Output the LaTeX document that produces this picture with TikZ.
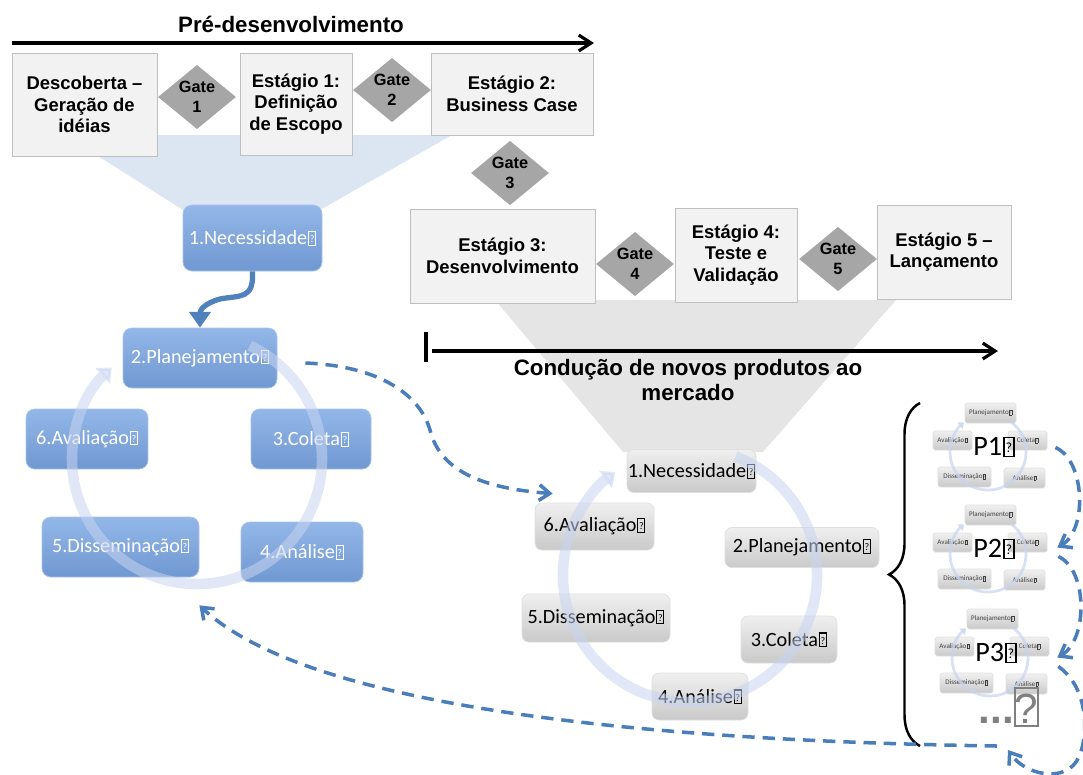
\documentclass[tikz,border=0pt]{standalone}
\usepackage{fontspec}
\setmainfont{Liberation Sans}
\newfontfamily\cali{Carlito}
\usepackage{graphicx}
\usetikzlibrary{calc,arrows.meta,decorations.pathreplacing,shapes.geometric}

\definecolor{funnelblue}{HTML}{DCE6F2}
\definecolor{boxtop}{HTML}{93B7E8}
\definecolor{boxbot}{HTML}{7098D1}
\definecolor{boxline}{HTML}{A9C3EA}
\definecolor{ringblue}{HTML}{C8D4F0}
\definecolor{linkblue}{HTML}{4A7EBB}
\definecolor{arrowblue}{HTML}{4F81BD}

% the boxed question mark that the picture prints after each label
\newcommand{\qb}{{\fboxsep=0pt\fboxrule=.05em\kern.04em\fbox{\makebox[.3em]{\rule{0pt}{.62em}\raisebox{.1em}{\scalebox{.5}{?}}}}}}

\tikzset{
	wh/.style 2 args={minimum width=#1*\px, minimum height=#2*\px},
	stage/.style={draw=gray!50, fill=gray!10, align=center, inner sep=1pt, font=\bfseries\fontsize{10.5}{12.3}\selectfont},
	gate/.style={diamond, aspect=1.1, fill=gray!70, align=center, inner sep=0pt, minimum width=78*\px, font=\bfseries\fontsize{9.3}{11.3}\selectfont},
	heading/.style={font=\bfseries\fontsize{12.7}{14.2}\selectfont},
	timeline/.style={line width=1.8pt, -{Straight Barb[length=7pt,width=9pt]}},
	bbox/.style={rounded corners=5pt, draw=boxline, top color=boxtop, bottom color=boxbot, text=white, inner sep=0pt, font=\cali\fontsize{11.5}{13}\selectfont},
	gbox/.style={rounded corners=4pt, draw=gray!25, top color=gray!12, bottom color=gray!42, inner sep=0pt, font=\cali\fontsize{11.5}{13}\selectfont},
	mbox/.style={rounded corners=1pt, draw=gray!25, top color=gray!12, bottom color=gray!42, text=black!75, inner sep=0pt, font=\cali\fontsize{4}{5}\selectfont},
	ring/.style={ringblue, opacity=.55, line width=6pt, -{Triangle[length=7pt,width=12pt]}},
	minring/.style={ringblue, opacity=.7, line width=1.6pt, -{Triangle[length=3pt,width=5pt]}},
	link/.style={linkblue, line width=2pt, dash pattern=on 7pt off 4.5pt, -{Straight Barb[length=6pt,width=9pt]}}
}

\begin{document}
\begin{tikzpicture}[x=0.2mm, y=-0.2mm]
	\def\px{0.2mm}
	\useasboundingbox (0,0) rectangle (1083,774);

	% funnels
	\fill[funnelblue] (65,135) -- (452,135) -- (320,210) -- (183,210) -- cycle;
	\fill[gray!20] (495,300) -- (896,300) -- (763,452) -- (623,452) -- cycle;

	% stages and gates
	\node[stage, wh={145}{103}] (disc) at (84.5,104.5) {Descoberta –\\Geração de\\idéias};
	\node[stage, wh={112}{102}] (st1) at (296,104) {Estágio 1:\\Definição\\de Escopo};
	\node[stage, wh={162}{82}] (st2) at (512,94) {Estágio 2:\\Business Case};
	\node[stage, wh={185}{94}] (st3) at (502.5,256) {Estágio 3:\\Desenvolvimento};
	\node[stage, wh={122}{94}] (st4) at (736,255) {Estágio 4:\\Teste e\\Validação};
	\node[stage, wh={134}{94}] (st5) at (944,252) {Estágio 5 –\\Lançamento};
	\node[gate] (gate1) at (197,97) {Gate\\1};
	\node[gate] (gate2) at (392,90) {Gate\\2};
	\node[gate] (gate3) at (510,173) {Gate\\3};
	\node[gate] (gate4) at (635,264) {Gate\\4};
	\node[gate] (gate5) at (838,259) {Gate\\5};

	% timelines
	\coordinate (pre-start) at (12,43);
	\coordinate (pre-end) at (594,43);
	\draw[timeline] (pre-start) -- (pre-end);
	\node[heading] (pre-lbl) at (291,24) {Pré-desenvolvimento};

	\coordinate (mkt-start) at (432,351);
	\coordinate (mkt-end) at (998,351);
	\draw[line width=1.8pt] ($(mkt-start)+(-6,-19)$) -- ($(mkt-start)+(-6,11)$);
	\draw[timeline] (mkt-start) -- (mkt-end);
	\node[heading, align=center] (mkt-lbl) at (688,380) {Condução de novos produtos ao\\mercado};

	% blue cycle
	\coordinate (bc) at (197,459);
	\node[bbox, wh={139}{66}] (bnec) at (252.5,238) {1.Necessidade\qb};
	\node[bbox, wh={154}{60}] (bpla) at (200,358) {2.Planejamento\qb};
	\node[bbox, wh={120}{60}] (bcol) at (311,439) {3.Coleta\qb};
	\node[bbox, wh={122}{60}] (bana) at (302,552) {4.Análise\qb};
	\node[bbox, wh={157}{60}] (bdis) at (120.5,547) {5.Disseminação\qb};
	\node[bbox, wh={122}{60}] (bava) at (87,439) {6.Avaliação\qb};
	\draw[ring] ($(bc)+(-65:125)$) arc[start angle=-65, end angle=227, radius=125];
	\draw[arrowblue, line width=3pt, -{Triangle[length=9pt,width=12pt]}] (bnec.south) .. controls (254,300) and (240,295) .. (220,299) .. controls (205,303) and (200,310) .. (bpla.north);

	% gray cycle
	\coordinate (gc) at (690,575);
	\node[gbox, wh={129}{43}] (gnec) at (691.5,471) {1.Necessidade\qb};
	\node[gbox, wh={154}{40}] (gpla) at (802,547.5) {2.Planejamento\qb};
	\node[gbox, wh={96}{47}] (gcol) at (789,639.5) {3.Coleta\qb};
	\node[gbox, wh={96}{47}] (gana) at (700,696.5) {4.Análise\qb};
	\node[gbox, wh={148}{48}] (gdis) at (596,618) {5.Disseminação\qb};
	\node[gbox, wh={119}{47}] (gava) at (594.5,526.5) {6.Avaliação\qb};
	\draw[ring] ($(gc)+(-69:127)$) arc[start angle=-69, end angle=234, radius=127];

	% small cycles P1..P3
	\foreach \i/\cx/\cy in {1/988/452, 2/988/554, 3/990/658}{
		\coordinate (p\i) at (\cx,\cy);
		\node[mbox, wh={51}{20}] (p\i-pla) at ($(p\i)+(2.5,-39)$) {Planejamento\qb};
		\node[mbox, wh={39}{19}] (p\i-ava) at ($(p\i)+(-35.5,-11.5)$) {Avaliação\qb};
		\node[mbox, wh={39}{19}] (p\i-col) at ($(p\i)+(39.5,-11.5)$) {Coleta\qb};
		\node[mbox, wh={53}{20}] (p\i-dis) at ($(p\i)+(-23.5,25)$) {Disseminação\qb};
		\node[mbox, wh={41}{20}] (p\i-ana) at ($(p\i)+(36.5,26)$) {Análise\qb};
		\draw[minring] ($(p\i)+(-53:38)$) arc[start angle=-53, end angle=231, radius=38];
		\node[font=\cali\fontsize{16}{18}\selectfont] (p\i-lbl) at ($(p\i)+(6,-5)$) {P\i\qb};
	}
	\node[text=gray, font=\bfseries\fontsize{24}{26}\selectfont] (dots) at (1009,707) {...{\mdseries\fboxsep=0pt\fboxrule=1.3pt\fbox{\makebox[.5em]{\rule[-.04em]{0pt}{.84em}?}}}};

	% brace
	\draw[line width=1.4pt, decorate, decoration={brace, amplitude=6.2mm}] (920,746) -- (920,403);

	% dashed links
	\coordinate (dots-in) at (1008,750);
	\coordinate (dots-out) at (997,746);
	\draw[link] ($(bpla.east)+(28,5)$) .. controls (380,366) and (420,395) .. (430,430) .. controls (440,470) and (480,488) .. ($(gava.north west)+(18,-9)$);
	\draw[link] ($(p1-col.east)+(8,7)$) .. controls (1085,460) and (1088,530) .. ($(p2-col.east)+(10,5)$);
	\draw[link] ($(p2-col.east)+(11,14)$) .. controls (1088,570) and (1088,640) .. ($(p3-col.east)+(8,11)$);
	\draw[link] ($(p3-col.east)+(9,20)$) .. controls (1092,690) and (1088,745) .. (1076,762) .. controls (1062,782) and (1025,775) .. (dots-in);
	\draw[link] (dots-out) .. controls (600,740) and (300,700) .. ($(bdis.south east)+(0,28)$);
\end{tikzpicture}
\end{document}
